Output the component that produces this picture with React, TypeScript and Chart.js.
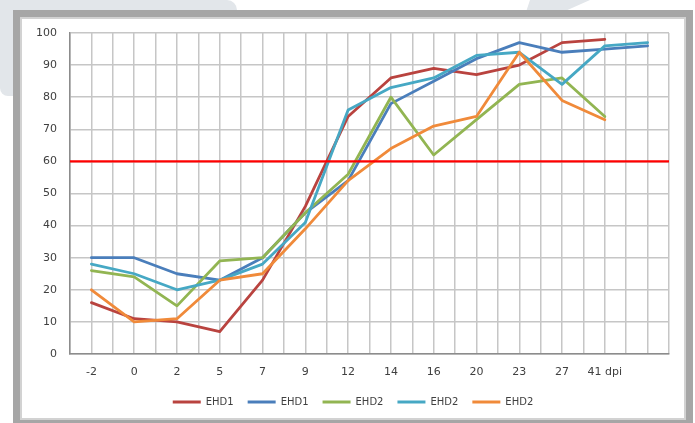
import React, { useEffect, useRef } from 'react';
import { Chart, registerables } from 'chart.js';

Chart.register(...registerables);

const categories = ['-2', '0', '2', '5', '7', '9', '12', '14', '16', '20', '23', '27', '41 dpi', ''];
const seriesNames = ['EHD1', 'EHD1', 'EHD2', 'EHD2', 'EHD2'];
const seriesColors = ['#b9433f', '#4a7ebb', '#92b552', '#46a8c4', '#f08a3a'];
const ehd1Red = [16, 11, 10, 7, 23, 46, 74, 86, 89, 87, 90, 97, 98];
const ehd1Blue = [30, 30, 25, 23, 30, 44, 54, 78, 85, 92, 97, 94, 95, 96];
const ehd2Green = [26, 24, 15, 29, 30, 44, 56, 80, 62, 73, 84, 86, 74];
const ehd2Teal = [28, 25, 20, 23, 28, 41, 76, 83, 86, 93, 94, 84, 96, 97];
const ehd2Orange = [20, 10, 11, 23, 25, 39, 54, 64, 71, 74, 94, 79, 73];
const thresholdValue = 60;
const yMin = 0;
const yMax = 100;
const yStep = 10;

const seriesValues = [ehd1Red, ehd1Blue, ehd2Green, ehd2Teal, ehd2Orange];

const FONT = 'DejaVu Sans';
const TEXT = '#404040';
const GRID = '#c6c6c6';
const AXIS = '#8c8c8c';

export default function App() {
  const ref = useRef<HTMLCanvasElement | null>(null);

  useEffect(() => {
    if (!ref.current) return;
    const n = categories.length;
    const datasets: any[] = seriesValues.map((vals, i) => ({
      label: seriesNames[i],
      data: vals.map((v, k) => ({ x: k, y: v })),
      borderColor: seriesColors[i],
      backgroundColor: seriesColors[i],
      borderWidth: 2.8,
      pointRadius: 0,
      pointHoverRadius: 0,
      tension: 0,
      fill: false,
      borderJoinStyle: 'round',
      borderCapStyle: 'round',
      order: seriesValues.length - i,
    }));
    datasets.push({
      label: 'threshold',
      data: [
        { x: -0.5, y: thresholdValue },
        { x: n - 0.5, y: thresholdValue },
      ],
      borderColor: '#ff0000',
      backgroundColor: '#ff0000',
      borderWidth: 2.2,
      pointRadius: 0,
      pointHoverRadius: 0,
      fill: false,
      order: 0,
    });

    const chart = new Chart(ref.current, {
      type: 'line',
      data: { datasets },
      options: {
        responsive: false,
        animation: false,
        events: [],
        layout: { padding: { left: 11, right: 0, top: 33, bottom: 6 } },
        plugins: {
          tooltip: { enabled: false },
          legend: {
            display: true,
            position: 'bottom',
            labels: {
              boxWidth: 28,
              boxHeight: 3,
              padding: 14,
              color: TEXT,
              font: { family: FONT, size: 10 },
              filter: (item: any) => item.datasetIndex < seriesNames.length,
              generateLabels: (c: any) =>
                c.data.datasets.map((ds: any, i: number) => ({
                  text: ds.label,
                  fillStyle: ds.borderColor,
                  strokeStyle: ds.borderColor,
                  lineWidth: 0,
                  fontColor: TEXT,
                  hidden: false,
                  datasetIndex: i,
                })),
            },
          },
        },
        scales: {
          x: {
            type: 'linear',
            min: -0.5,
            max: n - 0.5,
            afterBuildTicks: (scale: any) => {
              const t: any[] = [];
              for (let k = 0; k <= n * 2; k++) t.push({ value: -0.5 + k * 0.5 });
              scale.ticks = t;
            },
            afterFit: (scale: any) => {
              scale.height = 29;
            },
            ticks: {
              autoSkip: false,
              maxRotation: 0,
              minRotation: 0,
              padding: 12,
              color: TEXT,
              font: { family: FONT, size: 11 },
              callback: (value: any) => {
                const v = Number(value);
                return Number.isInteger(v) && categories[v] !== undefined ? categories[v] : '';
              },
            },
            grid: { color: GRID, lineWidth: 1.5, drawTicks: false },
            border: { color: AXIS, width: 1.5 },
          },
          y: {
            type: 'linear',
            position: 'left',
            min: yMin,
            max: yMax,
            afterFit: (scale: any) => {
              scale.width = 59;
            },
            ticks: {
              stepSize: yStep,
              padding: 13,
              color: TEXT,
              font: { family: FONT, size: 11 },
            },
            grid: { color: GRID, lineWidth: 1.5, drawTicks: false },
            border: { color: AXIS, width: 1.5 },
          },
          y2: {
            type: 'linear',
            position: 'right',
            display: true,
            afterFit: (scale: any) => {
              scale.width = 26;
            },
            ticks: { display: false },
            grid: { display: false, drawTicks: false },
            border: { display: false },
          },
        },
      },
    } as any);
    return () => chart.destroy();
  }, []);

  return (
    <div
      style={{
        position: 'absolute',
        left: 0,
        top: 0,
        width: 695,
        height: 423,
        overflow: 'hidden',
        background: '#ffffff',
      }}
    >
      <div
        style={{
          position: 'absolute',
          left: 0,
          top: 0,
          width: 237,
          height: 96,
          background: '#e2e6ea',
          borderTopRightRadius: 10,
          borderBottomLeftRadius: 8,
        }}
      />
      <div
        style={{
          position: 'absolute',
          left: 520,
          top: 0,
          width: 80,
          height: 12,
          background: '#e2e6ea',
          clipPath: 'polygon(10px 0, 70px 0, 43px 12px, 6px 12px)',
        }}
      />
      <div
        style={{
          position: 'absolute',
          left: 13,
          top: 10,
          width: 680,
          height: 417,
          boxSizing: 'border-box',
          border: '7px solid #a6a6a6',
          boxShadow: 'inset 0 0 0 2px #d2d2d2',
          background: '#ffffff',
        }}
      />
      <canvas
        ref={ref}
        width={695}
        height={423}
        style={{ position: 'absolute', left: 0, top: 0, width: 695, height: 423 }}
      />
    </div>
  );
}
